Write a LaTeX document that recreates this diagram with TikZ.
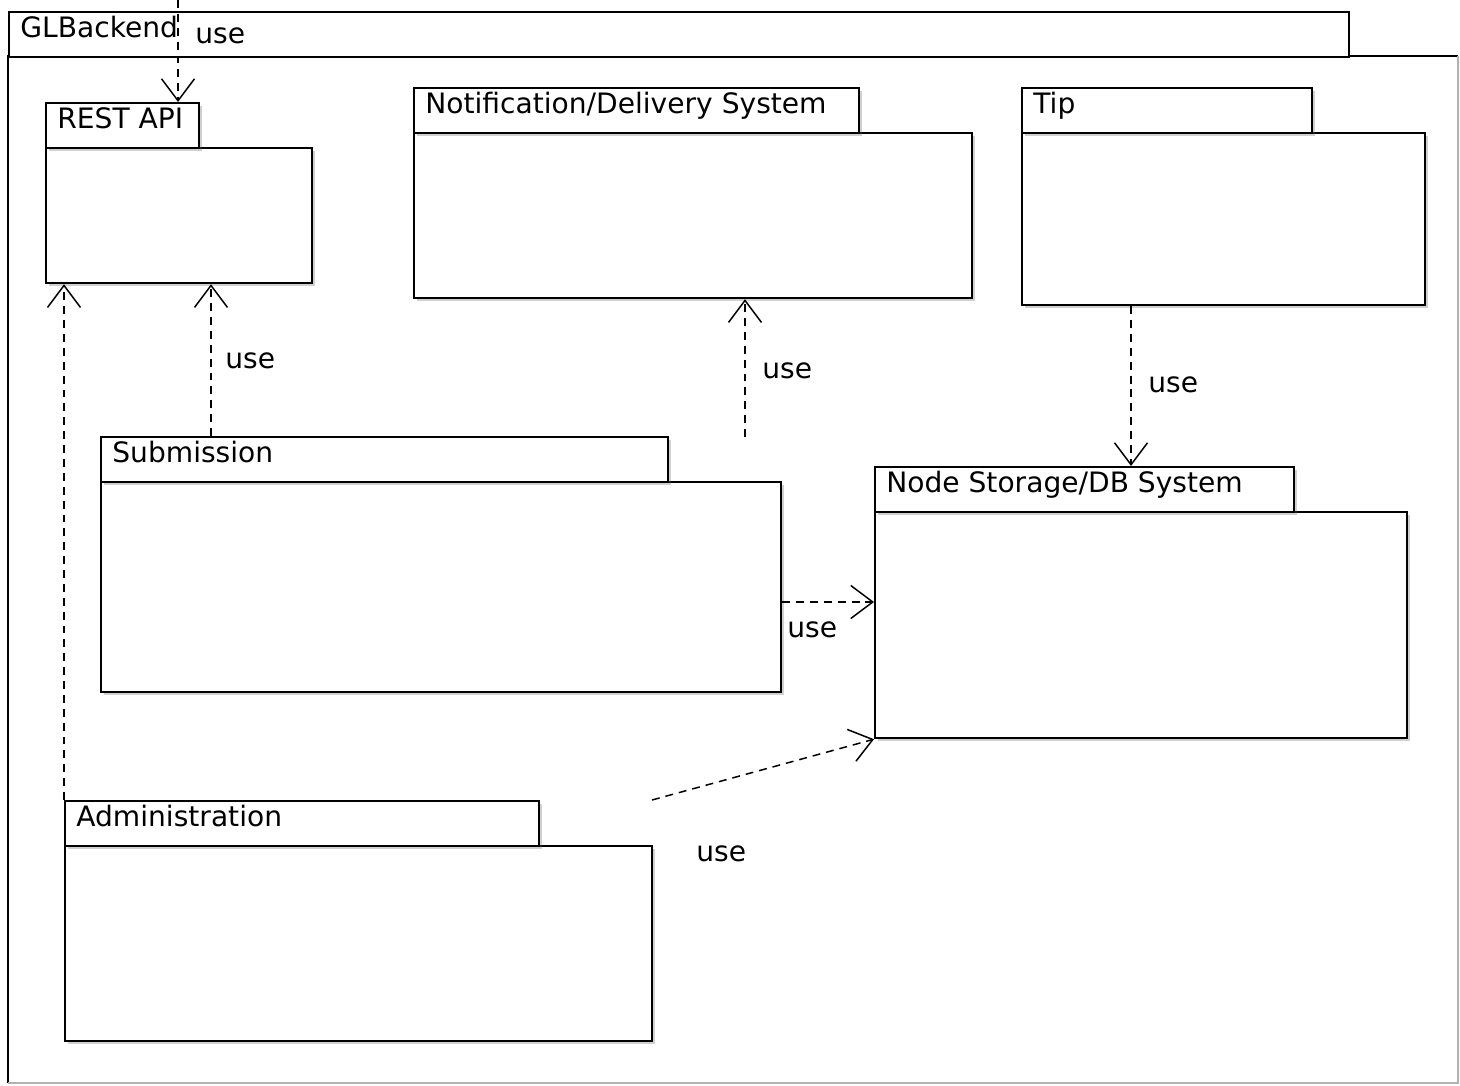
\documentclass[tikz,border=0pt]{standalone}
\usepackage{fontspec}
\setmainfont{DejaVu Sans}
\usetikzlibrary{arrows.meta,shadows}
\newcommand{\upx}{0.02cm}

\begin{document}
\begin{tikzpicture}[
    x=0.02cm, y=-0.02cm,
    outer/.style={draw, line width=1.25pt, fill=white, anchor=north west, inner sep=0pt},
    pkg/.style={outer, drop shadow={shadow xshift=0.05cm, shadow yshift=-0.05cm, opacity=0.3, fill=black!60}},
    tab/.style={pkg, minimum height=45*\upx},
    pkgname/.style={anchor=base west, inner sep=0pt, xshift=12*\upx, yshift=-26*\upx, font=\fontsize{16}{19}\selectfont},
    dep/.style={draw, dash pattern=on 4.5pt off 3.4pt, line width=0.85pt, -{Straight Barb[length=0.44cm, width=0.66cm]}},
    uselabel/.style={anchor=west, inner sep=0pt, font=\fontsize{16}{19}\selectfont}
]
\useasboundingbox (0,0) rectangle (1460,1085);

% Enclosing package (cut off at the right and bottom)
\node[outer, draw=none, outer sep=0pt, minimum width=1450*\upx, minimum height=1027*\upx] (glbody) at (8,56) {};
\draw[line width=1.25pt] (glbody.south west) -- (glbody.north west) -- (glbody.north east);
\draw[black!30, line width=1pt] (glbody.north east) -- (glbody.south east) -- (glbody.south west);
\node[outer, minimum width=1340*\upx, minimum height=45*\upx, label={[pkgname]north west:GLBackend}] (gltab) at (8,11) {};

% Inner packages
\node[pkg, minimum width=266*\upx, minimum height=135*\upx] (apibody) at (45,147) {};
\node[tab, minimum width=153*\upx, label={[pkgname]north west:REST API}] (apitab) at (45,102) {};

\node[pkg, minimum width=558*\upx, minimum height=165*\upx] (notifbody) at (413,132) {};
\node[tab, minimum width=445*\upx, label={[pkgname]north west:Notification/Delivery System}] (notiftab) at (413,87) {};

\node[pkg, minimum width=403*\upx, minimum height=172*\upx] (tipbody) at (1021,132) {};
\node[tab, minimum width=290*\upx, label={[pkgname]north west:Tip}] (tiptab) at (1021,87) {};

\node[pkg, minimum width=680*\upx, minimum height=210*\upx] (subbody) at (100,481) {};
\node[tab, minimum width=567*\upx, label={[pkgname]north west:Submission}] (subtab) at (100,436) {};

\node[pkg, minimum width=532*\upx, minimum height=226*\upx] (storebody) at (874,511) {};
\node[tab, minimum width=419*\upx, label={[pkgname]north west:Node Storage/DB System}] (storetab) at (874,466) {};

\node[pkg, minimum width=587*\upx, minimum height=195*\upx] (adminbody) at (64,845) {};
\node[tab, minimum width=474*\upx, label={[pkgname]north west:Administration}] (admintab) at (64,800) {};

% Free ends of the dependencies
\coordinate (apiin) at (178,0);
\coordinate (subup) at ([xshift=111*\upx]subtab.north west);
\coordinate (notifin) at (745,437);
\coordinate (tipdown) at ([xshift=110*\upx]tipbody.south west);
\coordinate (subright) at ([yshift=-121*\upx]subbody.north east);
\coordinate (adminout) at (652,800);

% Dependencies
\draw[dep] (apiin) -- (apiin |- apitab.north);
\draw[dep] (subup) -- (subup |- apibody.south);
\draw[dep] (admintab.north west) -- (admintab.north west |- apibody.south);
\draw[dep] (notifin) -- (notifin |- notifbody.south);
\draw[dep] (tipdown) -- (tipdown |- storetab.north);
\draw[dep] (subright) -- (subright -| storebody.west);
\draw[dep] (adminout) -- (storebody.south west);

% Labels
\node[uselabel] (use1) at (195,36) {use};
\node[uselabel] (use2) at (225,361) {use};
\node[uselabel] (use3) at (762,371) {use};
\node[uselabel] (use4) at (1148,385) {use};
\node[uselabel] (use5) at (787,630) {use};
\node[uselabel] (use6) at (696,854) {use};

\end{tikzpicture}
\end{document}
